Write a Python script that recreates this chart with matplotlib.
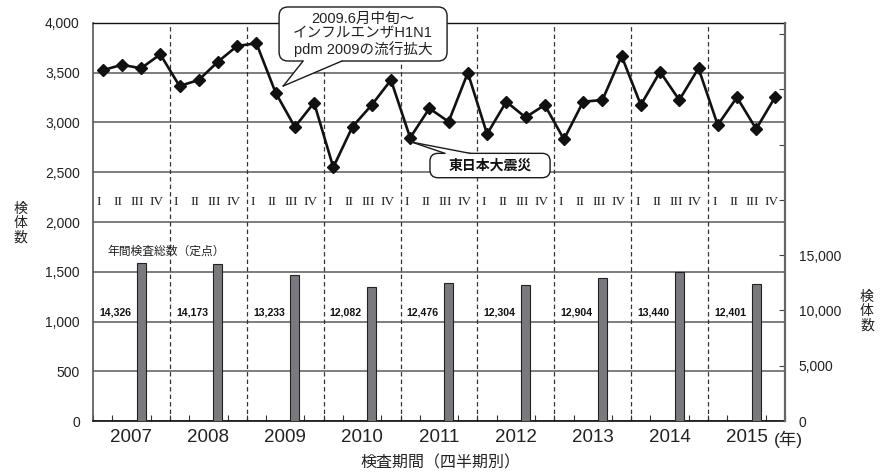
import numpy as np
import matplotlib
matplotlib.use("Agg")
import matplotlib.pyplot as plt
from matplotlib.patches import FancyBboxPatch, Polygon
from matplotlib.lines import Line2D
from matplotlib.transforms import IdentityTransform, blended_transform_factory

# ---- data -------------------------------------------------------------
years = ["2007", "2008", "2009", "2010", "2011", "2012", "2013", "2014", "2015"]
quarter_names = ["I", "II", "III", "IV"]

# quarterly specimen counts (left axis)
quarterly_counts = [
    3525, 3580, 3545, 3685,
    3367, 3427, 3611, 3769,
    3796, 3300, 2955, 3199,
    2550, 2958, 3176, 3427,
    2847, 3142, 3008, 3500,
    2884, 3209, 3052, 3176,
    2831, 3209, 3226, 3668,
    3176, 3510, 3226, 3545,
    2975, 3253, 2935, 3260,
]

# annual totals at sentinel sites (right axis)
annual_totals = [14326, 14173, 13233, 12082, 12476, 12304, 12904, 13440, 12401]

left_ticks = list(range(0, 4001, 500))
right_ticks = list(range(0, 35001, 5000))
right_labelled_max = 15000

# ---- styling ------------------------------------------------------------
plt.rcParams["font.family"] = ["Liberation Sans", "Noto Sans CJK JP"]
TXT = "#222222"
CJK = ["Noto Sans CJK JP", "Liberation Sans"]
MIXED = ["Liberation Sans", "Noto Sans CJK JP"]

W, H = 882, 473
fig = plt.figure(figsize=(W / 100, H / 100), dpi=100)
ax1 = fig.add_axes([93 / W, 52 / H, 692 / W, 398 / H])
ax2 = ax1.twinx()

n_q = len(quarterly_counts)
x_q = np.arange(n_q) + 0.5
ax1.set_xlim(0, n_q)
ax1.set_ylim(0, 4000)
ax2.set_ylim(0, 36000)

# horizontal grid
ax1.set_yticks(left_ticks)
ax1.set_yticklabels([f"{v:,}" for v in left_ticks])
ax1.grid(axis="y", color="#5a5a5a", lw=1.1)
ax1.set_axisbelow(True)
ax1.tick_params(axis="y", length=0, pad=9.5, labelsize=10, labelcolor=TXT)

# year boundaries
for b in range(4, n_q, 4):
    ax1.axvline(b, color="#333333", lw=0.9, ls=(0, (3.5, 2.5)), zorder=1.5)

# x axis: year labels centred on each year, small ticks at quarter edges
ax1.set_xticks(np.arange(2, n_q, 4))
ax1.set_xticklabels(years)
ax1.tick_params(axis="x", which="major", length=0, pad=6, labelsize=13.5, labelcolor=TXT)
ax1.set_xticks(np.arange(0, n_q + 1), minor=True)
ax1.tick_params(axis="x", which="minor", direction="in", length=4, width=0.8, color="#333333")

# right axis
ax2.set_yticks(right_ticks)
ax2.set_yticklabels([f"{v:,}" if v <= right_labelled_max else "" for v in right_ticks])
ax2.tick_params(axis="y", direction="in", length=4, width=0.8, color="#444444",
                pad=10, labelsize=10, labelcolor=TXT)

# spines
for s in ("left", "top", "bottom"):
    ax2.spines[s].set_visible(False)
ax1.spines["right"].set_visible(False)
ax1.spines["left"].set_color("#555555")
ax1.spines["left"].set_linewidth(1.2)
ax1.spines["bottom"].set_color("#111111")
ax1.spines["bottom"].set_linewidth(1.2)
ax1.spines["top"].set_color("#111111")
ax1.spines["top"].set_linewidth(1.0)
ax2.spines["right"].set_color("#666666")
ax2.spines["right"].set_linewidth(1.6)

# annual bars (placed on the third quarter of each year)
x_bar = np.arange(len(years)) * 4 + 2.5
ax2.bar(x_bar, annual_totals, width=0.47, color="#7a7a7e", edgecolor="#222222", lw=0.8, zorder=2)

# quarterly line
ax1.plot(x_q, quarterly_counts, color="#111111", lw=1.9, marker="D", ms=6,
         mfc="#111111", mec="#111111", zorder=4)

# quarter numerals
for i in range(n_q):
    ax1.text(x_q[i] - 0.18, 2205, quarter_names[i % 4], family="Liberation Serif",
             fontsize=9.5, ha="center", va="center", color=TXT)

# annual total labels
for i, v in enumerate(annual_totals):
    ax1.text(i * 4 + 1.15, 1090, f"{v:,}", family="Liberation Sans",
             fontweight="bold", fontsize=7.6, ha="center", va="center", color="#111111")

ax1.text(0.73, 1711, "年間検査総数（定点）", family=CJK, fontsize=8.5, ha="left",
         va="center", color=TXT)

# "(年)" after the last year label
bt = blended_transform_factory(ax1.transData, ax1.transAxes)
ax1.text(35.42, -0.046, "(年)", transform=bt, fontsize=12.5, ha="left", va="center",
         color=TXT, clip_on=False)

# axis titles
fig.text(20.5 / W, 1 - 223 / H, "検\n体\n数", family=CJK, fontsize=10, linespacing=1.05,
         ha="center", va="center", color=TXT)
fig.text(867 / W, 1 - 311 / H, "検\n体\n数", family=CJK, fontsize=10, linespacing=1.05,
         ha="center", va="center", color=TXT)
fig.text(440 / W, 1 - 463 / H, "検査期間（四半期別）", family=CJK, fontsize=11.5,
         ha="center", va="center", color=TXT)


# ---- callouts -----------------------------------------------------------
def draw_callout(box_lo, box_hi, base_x, tip, edge, radius):
    to_px = ax1.transData.transform
    x0, y0 = to_px(box_lo)
    x1, y1 = to_px(box_hi)
    ident = IdentityTransform()
    fig.add_artist(FancyBboxPatch((x0, y0), x1 - x0, y1 - y0,
                                  boxstyle=f"round,pad=0,rounding_size={radius}",
                                  transform=ident, fc="white", ec="#1a1a1a", lw=1.0, zorder=5))
    yb = y0 if edge == "bottom" else y1
    inward = 1.6 if edge == "bottom" else -1.6
    bx0 = to_px((base_x[0], 0))[0]
    bx1 = to_px((base_x[1], 0))[0]
    tx, ty = to_px(tip)
    fig.add_artist(Polygon([(bx0, yb + inward), (bx0, yb), (tx, ty), (bx1, yb), (bx1, yb + inward)],
                           closed=True, transform=ident, fc="white", ec="none", zorder=6))
    for bx in (bx0, bx1):
        fig.add_artist(Line2D([bx, tx], [yb, ty], transform=ident, color="#1a1a1a",
                              lw=1.0, zorder=7))
    return (x0 + x1) / 2, (y0 + y1) / 2


i_flu = 9
cx, cy = draw_callout((9.68, 3618), (18.42, 4161), (10.93, 12.95),
                      (x_q[i_flu] + 0.4, quarterly_counts[i_flu] + 67), "bottom", 9)
fig.text(cx, cy, "2009.6月中旬～\nインフルエンザH1N1\npdm 2009の流行拡大",
         transform=IdentityTransform(), family=MIXED, fontsize=10.5, ha="center", va="center",
         linespacing=1.05, color=TXT, zorder=8)

i_quake = 16
cx, cy = draw_callout((17.53, 2445), (23.78, 2690), (18.31, 19.61),
                      (x_q[i_quake] + 0.1, quarterly_counts[i_quake] - 45), "top", 8)
fig.text(cx, cy, "東日本大震災", transform=IdentityTransform(), family=CJK,
         fontweight="bold", fontsize=10, ha="center", va="center", color="#111111", zorder=8)

fig.savefig("out.png", dpi=100)
